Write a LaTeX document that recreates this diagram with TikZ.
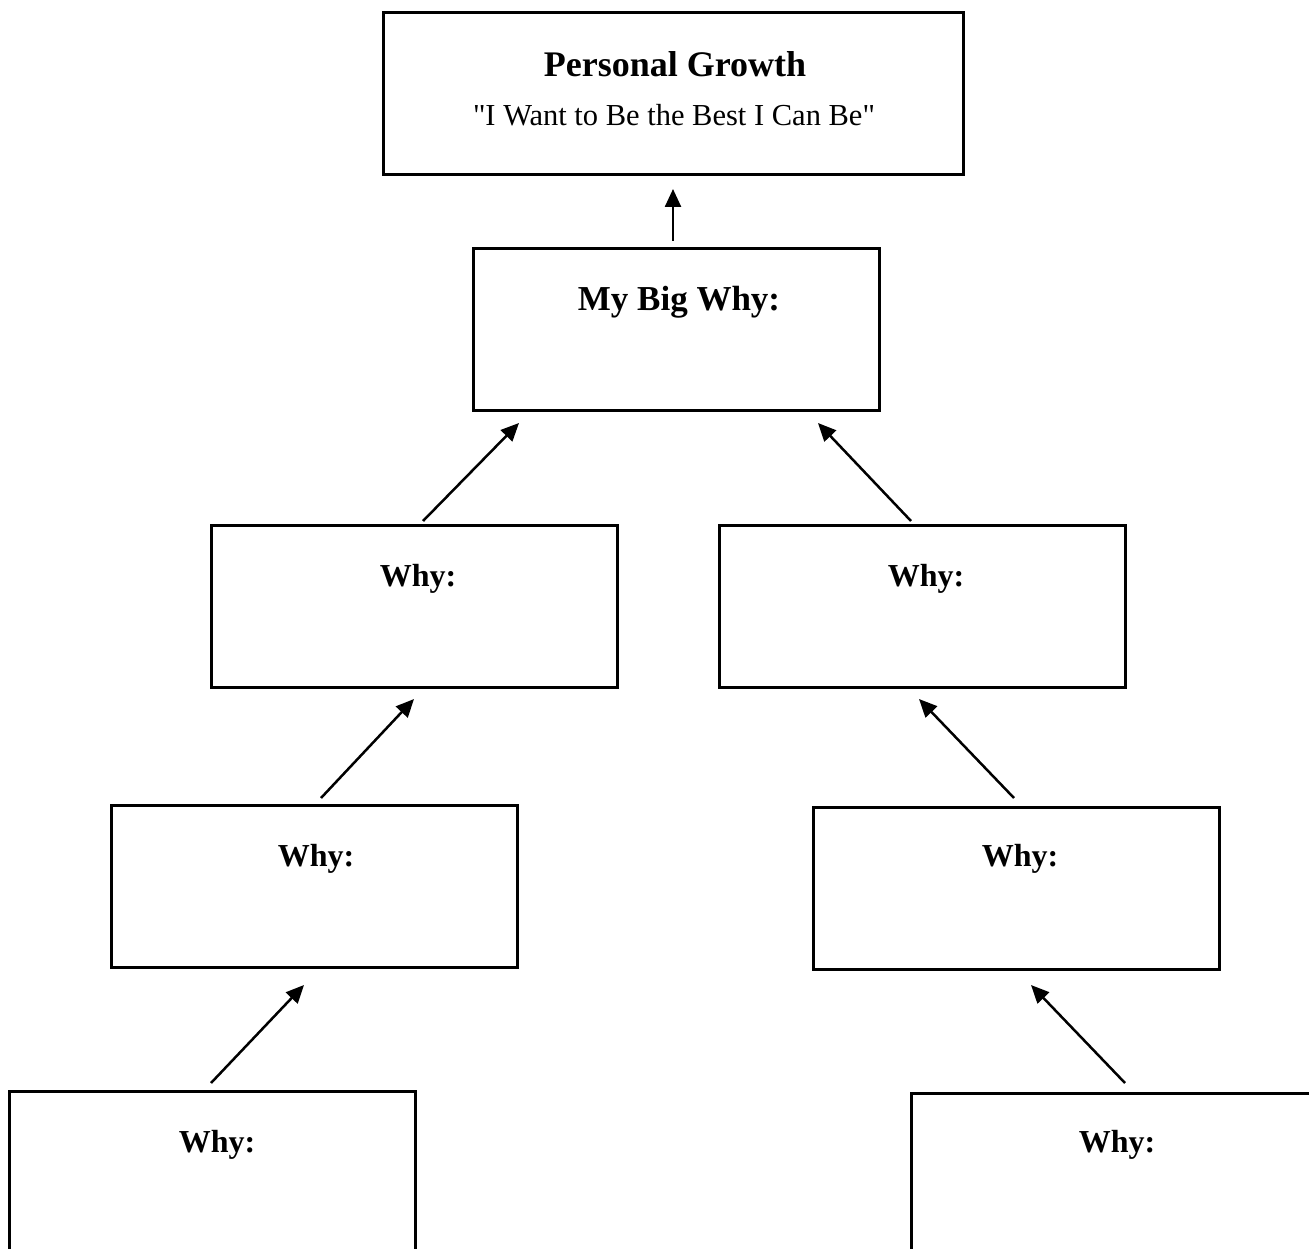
\documentclass[tikz,border=0pt]{standalone}
\usepackage{fontspec}
\setmainfont{Liberation Serif}
\newfontfamily\subfont[Ligatures=TeXOff]{Liberation Serif}
\usetikzlibrary{arrows.meta}
\tikzset{
  boxn/.style={draw=black, line width=3pt, minimum width=406pt, minimum height=162pt, inner sep=0pt},
  whyt/.style={anchor=base, inner sep=0pt, font=\fontsize{32}{36}\selectfont\bfseries},
  conn/.style={line width=2.5pt, -{Triangle[length=18pt, width=16pt]}},
}
\begin{document}
\begin{tikzpicture}[x=1pt, y=-1pt]
\useasboundingbox (0,0) rectangle (1309,1249);
\fill[white] (0,0) rectangle (1309,1249);
\begin{scope}
\clip (0,0) rectangle (1309,1249);
% boxes
\node[boxn, minimum width=580pt] (top) at (673,94) {};
\node[boxn] (big) at (676,329.5) {};
\node[boxn] (l1) at (414,606) {};
\node[boxn] (r1) at (922,606) {};
\node[boxn] (l2) at (314,886) {};
\node[boxn] (r2) at (1016,888) {};
\node[boxn] (l3) at (212,1172) {};
\node[boxn] (r3) at (1114,1174) {};
% texts
\node[anchor=base, inner sep=0pt, font=\fontsize{36}{40}\selectfont\bfseries] (ttitle) at (675,77) {Personal Growth};
\node[anchor=base, inner sep=0pt, font=\subfont\fontsize{30.5}{34}\selectfont] (tsub) at (674,126) {"I Want to Be the Best I Can Be"};
\node[whyt, font=\fontsize{35}{38}\selectfont\bfseries] (tbig) at (679,310) {My Big Why:};
\node[whyt] (tl1) at (418,586) {Why:};
\node[whyt] (tr1) at (926,586) {Why:};
\node[whyt] (tl2) at (316,866) {Why:};
\node[whyt] (tr2) at (1020,866) {Why:};
\node[whyt] (tl3) at (217,1152) {Why:};
\node[whyt] (tr3) at (1117,1152) {Why:};
% connector end points
\coordinate (a0s) at (673,241);
\coordinate (a0e) at (673,189);
\coordinate (a1s) at (423,521);
\coordinate (a1e) at (519,423);
\coordinate (a2s) at (911,521);
\coordinate (a2e) at (818,423);
\coordinate (a3s) at (321,798);
\coordinate (a3e) at (414,699);
\coordinate (a4s) at (1014,798);
\coordinate (a4e) at (919,699);
\coordinate (a5s) at (211,1083);
\coordinate (a5e) at (304,985);
\coordinate (a6s) at (1125,1083);
\coordinate (a6e) at (1031,985);
\draw[conn] (a0s) -- (a0e);
\draw[conn] (a1s) -- (a1e);
\draw[conn] (a2s) -- (a2e);
\draw[conn] (a3s) -- (a3e);
\draw[conn] (a4s) -- (a4e);
\draw[conn] (a5s) -- (a5e);
\draw[conn] (a6s) -- (a6e);
\end{scope}
\end{tikzpicture}
\end{document}
